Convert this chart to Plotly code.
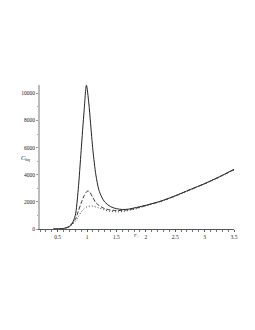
import plotly.graph_objects as go

# solid curve
x_solid = [0.43, 0.5, 0.6, 0.7, 0.75, 0.8, 0.85, 0.9, 0.95, 0.99, 1.03, 1.06, 1.1, 1.15, 1.2, 1.25, 1.3, 1.4, 1.5, 1.6, 1.7, 1.8, 2.0, 2.25, 2.5, 2.75, 3.0, 3.25, 3.5]
y_solid = [0, 10, 40, 200, 450, 1000, 2900, 5800, 8700, 10600, 9300, 7800, 5800, 4000, 2900, 2350, 2000, 1650, 1500, 1440, 1460, 1550, 1750, 2050, 2450, 2900, 3350, 3850, 4400]

# dashed curve
x_dash = [0.43, 0.6, 0.7, 0.8, 0.85, 0.9, 0.95, 1.0, 1.02, 1.05, 1.1, 1.15, 1.2, 1.3, 1.4, 1.5, 1.6, 1.7, 1.8, 2.0, 2.25, 2.5, 2.75, 3.0, 3.25, 3.5]
y_dash = [0, 40, 180, 700, 1300, 1900, 2450, 2780, 2800, 2700, 2300, 1950, 1750, 1500, 1400, 1360, 1370, 1420, 1500, 1730, 2040, 2440, 2890, 3340, 3840, 4380]

# dotted curve
x_dot = [0.43, 0.6, 0.7, 0.8, 0.85, 0.9, 0.95, 1.0, 1.05, 1.1, 1.2, 1.3, 1.4, 1.5, 1.6, 1.7, 1.8, 2.0, 2.25, 2.5, 2.75, 3.0, 3.25, 3.5]
y_dot = [0, 35, 160, 550, 900, 1250, 1500, 1640, 1690, 1680, 1560, 1400, 1300, 1270, 1290, 1360, 1450, 1700, 2020, 2420, 2870, 3320, 3820, 4360]

x_ticks = [0.5, 1, 1.5, 2, 2.5, 3, 3.5]
y_ticks = [0, 2000, 4000, 6000, 8000, 10000]

fig = go.Figure()
fig.add_trace(go.Scatter(x=x_solid, y=y_solid, mode="lines",
                         line=dict(color="#222", width=1, shape="spline", smoothing=0.8)))
fig.add_trace(go.Scatter(x=x_dash, y=y_dash, mode="lines",
                         line=dict(color="#333", width=1, dash="4px,2px", shape="spline", smoothing=0.8)))
fig.add_trace(go.Scatter(x=x_dot, y=y_dot, mode="lines",
                         line=dict(color="#444", width=1, dash="1px,2px", shape="spline", smoothing=0.8)))

font = dict(family="Liberation Serif", size=5.5, color="#222")
fig.update_layout(
    width=247, height=322,
    margin=dict(l=31.5, r=21, t=77, b=100.7),
    paper_bgcolor="white", plot_bgcolor="white",
    showlegend=False,
    font=font,
    xaxis=dict(range=[0.2, 3.5], tickvals=x_ticks, ticktext=[str(v) for v in x_ticks],
               showgrid=False, zeroline=False, showline=True, linecolor="#555", linewidth=1,
               ticks="outside", ticklen=2, tickcolor="#555", tickfont=font, automargin=False,
               minor=dict(dtick=0.1, tick0=0, ticks="outside", ticklen=1.5, tickcolor="#777")),
    yaxis=dict(range=[0, 10620], tickvals=y_ticks, ticktext=[str(v) for v in y_ticks],
               showgrid=False, zeroline=False, showline=True, linecolor="#bbb", linewidth=2,
               ticks="outside", ticklen=2, tickcolor="#999", tickfont=font, automargin=False,
               minor=dict(dtick=1000, tick0=0, ticks="outside", ticklen=1.5, tickcolor="#aaa")),
    annotations=[
        dict(text="<i>C</i><sub>hq</sub>", xref="paper", yref="paper", x=-0.11, y=0.494,
             showarrow=False, font=dict(family="Liberation Serif", size=6.5, color="#222")),
        dict(text="<i>r</i><sub>+</sub>", xref="paper", yref="paper", x=0.5, y=-0.081,
             showarrow=False, font=dict(family="Liberation Serif", size=6.5, color="#222")),
    ],
)
fig.write_html("out.html")
